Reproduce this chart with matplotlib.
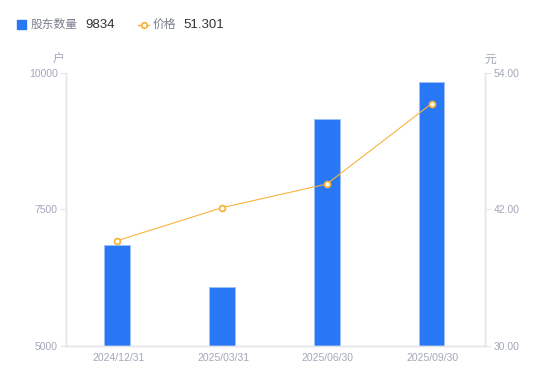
import matplotlib.pyplot as plt
import numpy as np

plt.rcParams['font.family'] = ['Liberation Sans', 'Noto Sans CJK SC', 'DejaVu Sans']

# 数据
dates = ['2024/12/31', '2025/03/31', '2025/06/30', '2025/09/30']
holders = [6845, 6085, 9160, 9834]
price = [39.26, 42.16, 44.24, 51.301]

bar_color = '#2877F5'
line_color = '#F8B33C'
axis_color = '#E3E5EA'
tick_color = '#A3A7B8'

fig = plt.figure(figsize=(5.5, 3.81), dpi=100)
ax = fig.add_axes([0.12, 0.0919, 0.7618, 0.7165])

x = np.arange(len(dates))
ax.bar(x - 0.01, holders, width=0.245, color=bar_color, edgecolor='#9DC1FA', linewidth=0.6, zorder=2)
ax.set_ylim(5000, 10000)
ax.set_xlim(-0.5, 3.5)
ax.set_yticks([5000, 7500, 10000])
ax.set_xticks(x)
ax.set_xticklabels(dates)

ax2 = ax.twinx()
ax2.plot(x - 0.01, price, color=line_color, lw=0.8, marker='o', ms=4.2,
         mfc='white', mec=line_color, mew=1.3, zorder=3)
ax2.set_ylim(30, 54)
ax2.set_yticks([30, 42, 54])
ax2.set_yticklabels(['30.00', '42.00', '54.00'])

for a in (ax, ax2):
    for s in a.spines.values():
        s.set_color(axis_color)
        s.set_linewidth(1)
    a.spines['top'].set_visible(False)
    a.tick_params(colors=tick_color, labelsize=7.5, length=4, width=0.8, pad=2)
    a.tick_params(axis='y', color=axis_color)
ax.tick_params(axis='x', length=0, pad=5)

ax.text(-0.017, 1.048, '户', transform=ax.transAxes, ha='center', va='center',
        fontsize=8.5, color=tick_color)
ax.text(1.012, 1.048, '元', transform=ax.transAxes, ha='center', va='center',
        fontsize=8.5, color=tick_color)

# 图例
ly = 1 - 25 / 381
fig.patches.append(plt.Rectangle((17 / 550, 1 - 29 / 381), 9 / 550, 9 / 381,
                                 transform=fig.transFigure, color=bar_color))
fig.text(31 / 550, ly, '股东数量', fontsize=8.5, color='#7A7E8C', va='center')
fig.text(85 / 550, ly, '9834', fontsize=9.5, color='#333333', va='center')
fig.add_artist(plt.Line2D([138 / 550, 149 / 550], [1 - 24.5 / 381, 1 - 24.5 / 381],
                          color=line_color, lw=1, transform=fig.transFigure))
fig.add_artist(plt.Line2D([143.5 / 550], [1 - 24.5 / 381], color=line_color, marker='o',
                          ms=4, mfc='white', mec=line_color, mew=1.3,
                          transform=fig.transFigure))
fig.text(153 / 550, ly, '价格', fontsize=8.5, color='#7A7E8C', va='center')
fig.text(183 / 550, ly, '51.301', fontsize=9.5, color='#333333', va='center')

fig.savefig('out.png', dpi=100)
